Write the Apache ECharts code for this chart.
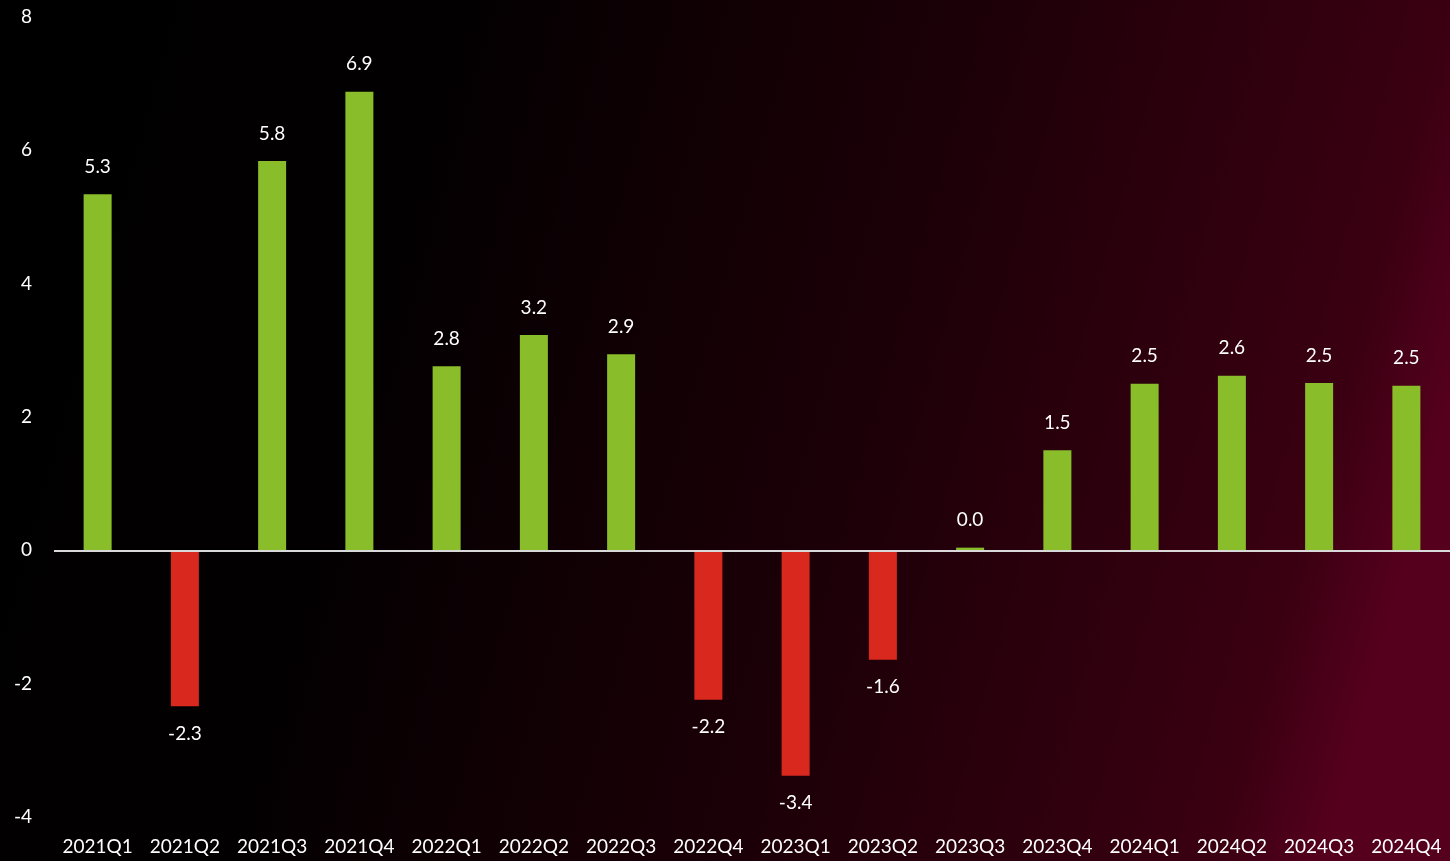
<!DOCTYPE html>
<html>
<head>
<meta charset="utf-8">
<script src="https://cdn.jsdelivr.net/npm/echarts@6/dist/echarts.min.js"></script>
<style>
  html, body { margin: 0; padding: 0; background: #000; }
  #chart { width: 1450px; height: 861px; }
</style>
</head>
<body>
<div id="chart"></div>
<script>
const quarters = ['2021Q1', '2021Q2', '2021Q3', '2021Q4', '2022Q1', '2022Q2', '2022Q3', '2022Q4',
  '2023Q1', '2023Q2', '2023Q3', '2023Q4', '2024Q1', '2024Q2', '2024Q3', '2024Q4']
const growth = [5.34, -2.34, 5.84, 6.88, 2.76, 3.23, 2.94, -2.24, -3.38, -1.64, 0.04, 1.5, 2.5, 2.62, 2.51, 2.47]

const green = '#8abd2a'
const red = '#d9281e'
const font = 'Lato, "Open Sans", sans-serif'

const chart = echarts.init(document.getElementById('chart'))

chart.setOption({
  // dark gradient, black on the left going to wine red on the right
  backgroundColor: {
    type: 'linear', x: 0, y: 0, x2: 1450, y2: 400, global: true,
    colorStops: [
      { offset: 0, color: '#000000' },
      { offset: 0.3, color: '#030001' },
      { offset: 0.465, color: '#100004' },
      { offset: 0.62, color: '#1b0007' },
      { offset: 0.93, color: '#3a0012' },
      { offset: 1, color: '#55001d' }
    ]
  },
  animation: false,
  grid: { left: 54, right: -4, top: 17, bottom: 44, containLabel: false },
  xAxis: {
    type: 'category',
    data: quarters,
    axisLine: { show: false },
    axisTick: { show: false },
    axisLabel: { color: '#ffffff', fontSize: 19, fontFamily: font, margin: 20, interval: 0 }
  },
  yAxis: {
    type: 'value',
    min: -4,
    max: 8,
    interval: 2,
    splitLine: { show: false },
    axisLine: { show: false },
    axisTick: { show: false },
    axisLabel: { color: '#ffffff', fontSize: 19, fontFamily: font, margin: 22 }
  },
  series: [{
    type: 'bar',
    barWidth: 28,
    data: growth.map(v => ({
      value: v,
      itemStyle: { color: v >= 0 ? green : red },
      label: { position: v >= 0 ? 'top' : 'bottom' }
    })),
    label: {
      show: true,
      color: '#ffffff',
      fontSize: 19,
      fontFamily: font,
      distance: 18,
      formatter: p => p.value.toFixed(1)
    },
    // zero line
    markLine: {
      silent: true,
      symbol: 'none',
      label: { show: false },
      lineStyle: { color: '#d9d9d9', width: 2, type: 'solid' },
      data: [{ yAxis: 0 }]
    }
  }]
})
</script>
</body>
</html>
